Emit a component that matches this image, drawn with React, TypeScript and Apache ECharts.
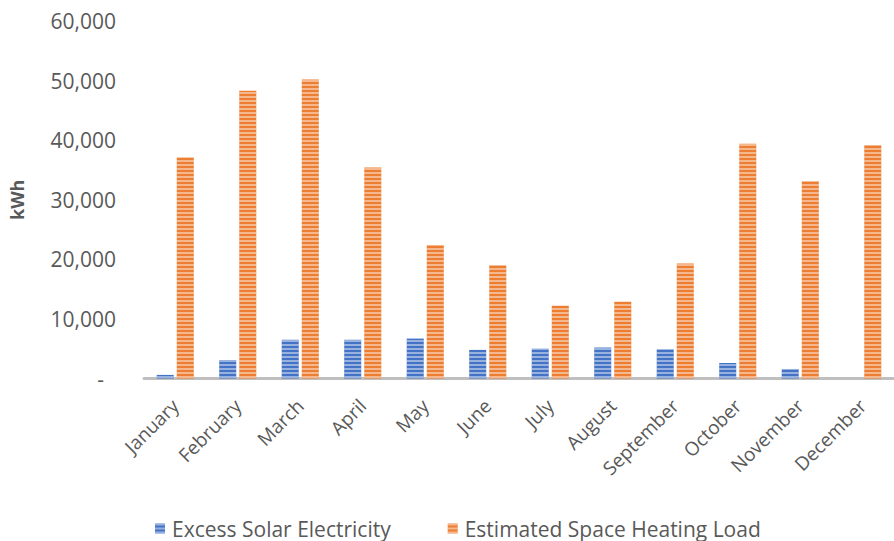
import React, { useEffect, useRef } from "react";
import * as echarts from "echarts";

const months = [
  "January", "February", "March", "April", "May", "June",
  "July", "August", "September", "October", "November", "December",
];
const excessSolar = [600, 3100, 6500, 6500, 6700, 4800, 5000, 5200, 4900, 2600, 1600, 0];
const heatingLoad = [37100, 48300, 50200, 35400, 22400, 19000, 12200, 12900, 19300, 39400, 33100, 39200];
const seriesNames = ["Excess Solar Electricity", "Estimated Space Heating Load"];
const yTicks = { min: 0, max: 60000, interval: 10000 };

const FONT = "Open Sans";
const TEXT = "#595959";

export default function App() {
  const ref = useRef<HTMLDivElement>(null);
  useEffect(() => {
    if (!ref.current) return;
    const chart = echarts.init(ref.current, null, { renderer: "svg" });
    const stripe = {
      symbol: "rect",
      symbolSize: 1,
      dashArrayX: [1, 0],
      dashArrayY: [2, 2],
      rotation: 0,
      color: "rgba(255,255,255,0.45)",
    };
    chart.setOption({
      animation: false,
      textStyle: { fontFamily: FONT },
      grid: { left: 143, right: -11, top: 21, bottom: 162.5, containLabel: false },
      legend: {
        left: 150,
        top: 513,
        icon: "rect",
        itemWidth: 10,
        itemHeight: 10,
        itemGap: 57,
        textStyle: { color: TEXT, fontSize: 21, fontFamily: FONT, padding: [0, 0, 0, 2] },
        data: seriesNames,
      },
      xAxis: {
        type: "category",
        data: months,
        axisLine: { show: true, lineStyle: { color: "#BFBFBF", width: 3 } },
        axisTick: { show: false },
        axisLabel: { rotate: 45, color: TEXT, fontSize: 19, margin: 24, interval: 0 },
      },
      yAxis: {
        type: "value",
        min: yTicks.min,
        max: yTicks.max,
        interval: yTicks.interval,
        name: "kWh",
        nameLocation: "middle",
        nameRotate: 90,
        nameGap: 118,
        nameTextStyle: { color: TEXT, fontSize: 18, fontWeight: "bold" },
        axisLine: { show: false },
        axisTick: { show: false },
        splitLine: { show: false },
        axisLabel: {
          color: TEXT,
          fontSize: 21,
          margin: 28,
          formatter: (v: number) => (v === 0 ? "{d|-}" : v.toLocaleString("en-US")),
          rich: { d: { color: TEXT, fontSize: 21, padding: [0, 12, 0, 0] } },
        },
      },
      series: [
        {
          name: seriesNames[0],
          type: "bar",
          data: excessSolar,
          barWidth: 17,
          barGap: "18%",
          itemStyle: { color: "#4472C4", decal: stripe },
        },
        {
          name: seriesNames[1],
          type: "bar",
          data: heatingLoad,
          barWidth: 17,
          itemStyle: { color: "#ED7D31", decal: stripe },
        },
      ],
    });
    return () => chart.dispose();
  }, []);
  return (
    <div
      ref={ref}
      style={{ position: "fixed", left: 0, top: 0, width: 894, height: 541, background: "#fff" }}
    />
  );
}
